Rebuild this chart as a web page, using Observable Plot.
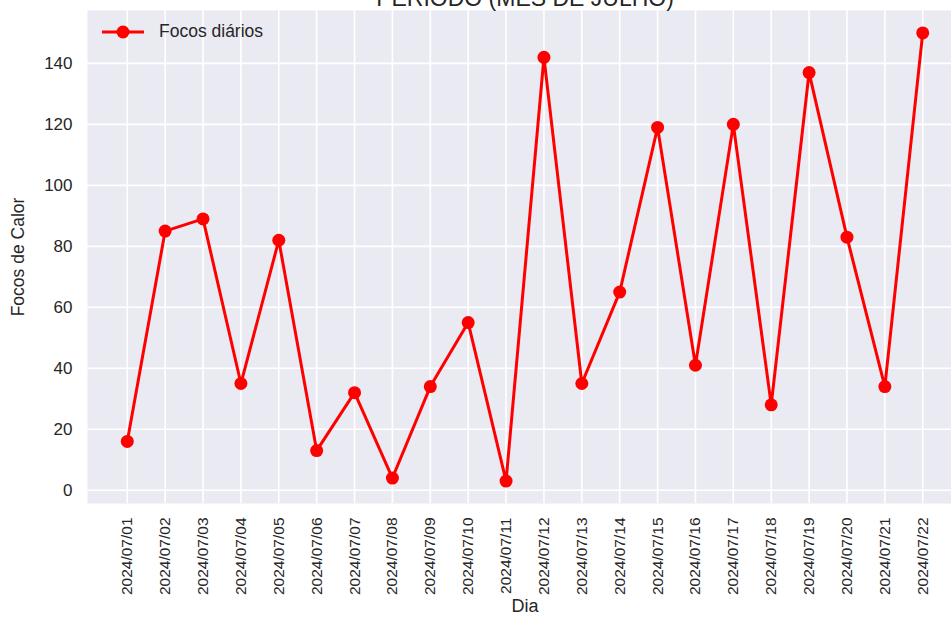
<!DOCTYPE html>
<html>
<head>
<meta charset="utf-8">
<script src="https://cdn.jsdelivr.net/npm/d3@7"></script>
<script src="https://cdn.jsdelivr.net/npm/@observablehq/plot@0.6"></script>
<style>
  html, body { margin: 0; padding: 0; background: #ffffff; overflow: hidden; }
  #wrap { position: relative; width: 951px; height: 617px; overflow: hidden; font-family: "Liberation Sans", Arial, sans-serif; }
  #legend { position: absolute; left: 100px; top: 21px; display: flex; align-items: center; font-size: 17.5px; color: #262626; }
  #legend svg { margin-right: 13px; }
</style>
</head>
<body>
<div id="wrap"></div>
<script>
const days = ["2024/07/01","2024/07/02","2024/07/03","2024/07/04","2024/07/05","2024/07/06","2024/07/07","2024/07/08","2024/07/09","2024/07/10","2024/07/11","2024/07/12","2024/07/13","2024/07/14","2024/07/15","2024/07/16","2024/07/17","2024/07/18","2024/07/19","2024/07/20","2024/07/21","2024/07/22"];
const focos = [16, 85, 89, 35, 82, 13, 32, 4, 34, 55, 3, 142, 35, 65, 119, 41, 120, 28, 137, 83, 34, 150];
const yTicks = [0, 20, 40, 60, 80, 100, 120, 140];
const titleText = "PERÍODO (MÊS DE JULHO)";
const seriesLabel = "Focos diários";
const xLabel = "Dia";
const yLabel = "Focos de Calor";

const data = days.map((d, i) => ({dia: d, focos: focos[i]}));

const red = "#ff0000";
const ink = "#262626";

const chart = Plot.plot({
  width: 951,
  height: 617,
  marginLeft: 87,
  marginRight: -11,
  marginTop: 10,
  marginBottom: 114,
  style: {fontFamily: "Liberation Sans, Arial, sans-serif", color: ink, background: "transparent", overflow: "hidden"},
  x: {type: "point", domain: days, padding: 1.05, round: false, label: null},
  y: {domain: [-4.35, 157.35], label: null},
  marks: [
    Plot.frame({fill: "#eaeaf2", stroke: null}),
    Plot.gridX(days, {stroke: "#ffffff", strokeOpacity: 1, strokeWidth: 1.6}),
    Plot.gridY(yTicks, {stroke: "#ffffff", strokeOpacity: 1, strokeWidth: 1.6}),
    Plot.axisY(yTicks, {tickSize: 0, tickPadding: 15, fontSize: 17, label: null, fill: ink}),
    Plot.axisX(days, {tickSize: 0, tickPadding: 14, tickRotate: -90, fontSize: 15.5, label: null, fill: ink}),
    Plot.line(data, {x: "dia", y: "focos", stroke: red, strokeWidth: 3}),
    Plot.dot(data, {x: "dia", y: "focos", fill: red, r: 6.5}),
    Plot.text([titleText], {frameAnchor: "top", dy: -12, fontSize: 23, fill: ink, lineAnchor: "middle"}),
    Plot.text([xLabel], {frameAnchor: "bottom", dy: 103, fontSize: 18, fill: ink, lineAnchor: "middle"}),
    Plot.text([yLabel], {frameAnchor: "left", dx: -69, rotate: -90, textAnchor: "middle", fontSize: 17.5, fill: ink, lineAnchor: "middle"})
  ]
});

const wrap = document.getElementById("wrap");
wrap.appendChild(chart);

const legend = document.createElement("div");
legend.id = "legend";
legend.innerHTML = `<svg width="46" height="20"><line x1="2" y1="10" x2="44" y2="10" stroke="${red}" stroke-width="3"/><circle cx="23" cy="10" r="6.5" fill="${red}"/></svg><span></span>`;
legend.querySelector("span").textContent = seriesLabel;
wrap.appendChild(legend);
</script>
</body>
</html>
